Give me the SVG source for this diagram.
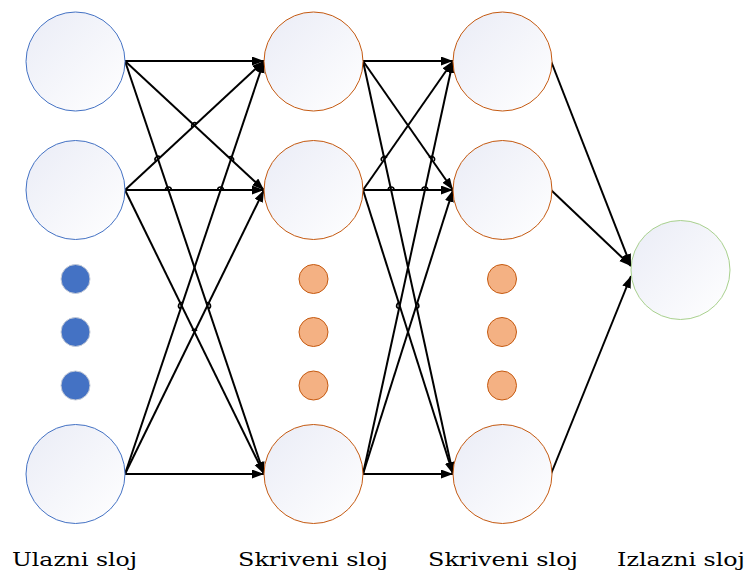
<svg xmlns="http://www.w3.org/2000/svg" width="748" height="576" viewBox="0 0 748 576">
<style>
.node{stroke-width:1}
.in{fill:url(#g);stroke:#4472C4}
.hid{fill:url(#g);stroke:#C55A11}
.out{fill:url(#g);stroke:#A9D18E}
.bd{fill:#4472C4;stroke:#C8CDD8;stroke-width:1}
.od{fill:#F4B183;stroke:#C55A11;stroke-width:1}
.c{fill:none;stroke:#000;stroke-width:2;marker-end:url(#ah)}
.hop{fill:none;stroke:#000;stroke-width:1.6}
.lbl{font-family:"DejaVu Serif","Liberation Serif",serif;font-size:19px;fill:#000}
</style>
<defs>
<linearGradient id="g" x1="0" y1="0" x2="1" y2="1">
<stop offset="0" stop-color="#EAECF6"/>
<stop offset="1" stop-color="#FFFFFF"/>
</linearGradient>
<marker id="ah" markerUnits="userSpaceOnUse" markerWidth="13" markerHeight="10" refX="12" refY="4.5" orient="auto">
<path d="M0,0 L12,4.5 L0,9 z" fill="#000"/>
</marker>
</defs>
<g id="connectors">
<path class="c" d="M125,61 L264,61"/>
<path class="c" d="M125,61 L264,190"/>
<path class="c" d="M125,61 L264,474"/>
<path class="c" d="M125,190 L264,61"/>
<path class="c" d="M125,190 L264,190"/>
<path class="c" d="M125,190 L264,474"/>
<path class="c" d="M125,474 L264,61"/>
<path class="c" d="M125,474 L264,190"/>
<path class="c" d="M125,474 L264,474"/>
<path class="c" d="M363,61 L453,61"/>
<path class="c" d="M363,61 L453,190"/>
<path class="c" d="M363,61 L453,474"/>
<path class="c" d="M363,190 L453,61"/>
<path class="c" d="M363,190 L453,190"/>
<path class="c" d="M363,190 L453,474"/>
<path class="c" d="M363,474 L453,61"/>
<path class="c" d="M363,474 L453,190"/>
<path class="c" d="M363,474 L453,474"/>
<path class="c" d="M551,61 L631,266"/>
<path class="c" d="M551,190 L631,266"/>
<path class="c" d="M551,474 L631,276"/>
<g id="hops">
<path class="hop" d="M192.3,127.5 A3,3 0 0 1 196.7,123.5"/>
<path class="hop" d="M155.6,161.0 A3,3 0 0 1 160.6,157.6"/>
<path class="hop" d="M165.4,190 A3,3 0 0 1 171.4,190"/>
<path class="hop" d="M217.6,190 A3,3 0 0 1 223.6,190"/>
<path class="hop" d="M228.5,157.6 A3,3 0 0 1 233.3,161.0"/>
<path class="hop" d="M206.4,302.9 A3,3 0 0 1 208.4,308.7"/>
<path class="hop" d="M180.6,308.6 A3,3 0 0 1 182.6,302.8"/>
<path class="hop" d="M192.0,330.7 A3,3 0 0 1 197.0,330.7"/>
<path class="hop" d="M381.9,161.0 A3,3 0 0 1 386.9,157.6"/>
<path class="hop" d="M388.1,190 A3,3 0 0 1 394.1,190"/>
<path class="hop" d="M421.9,190 A3,3 0 0 1 427.9,190"/>
<path class="hop" d="M429.1,157.6 A3,3 0 0 1 434.1,161.0"/>
<path class="hop" d="M415.7,302.8 A3,3 0 0 1 416.9,308.6"/>
<path class="hop" d="M398.8,308.6 A3,3 0 0 1 400.6,302.8"/>
</g>
</g>
<g id="input1"><circle class="in" cx="75.5" cy="61.5" r="49.5"/></g>
<g id="input2"><circle class="in" cx="75.5" cy="190" r="49.5"/></g>
<g id="input-dots">
<circle class="bd" cx="75.5" cy="279" r="14.5"/>
<circle class="bd" cx="75.5" cy="332" r="14.5"/>
<circle class="bd" cx="75.5" cy="385.5" r="14.5"/>
</g>
<g id="input3"><circle class="in" cx="75.5" cy="474" r="49.5"/></g>
<g id="hidden1a"><circle class="hid" cx="313.5" cy="61.5" r="49.5"/></g>
<g id="hidden1b"><circle class="hid" cx="313.5" cy="190" r="49.5"/></g>
<g id="hidden1-dots">
<circle class="od" cx="313.5" cy="279" r="14.5"/>
<circle class="od" cx="313.5" cy="332" r="14.5"/>
<circle class="od" cx="313.5" cy="385.5" r="14.5"/>
</g>
<g id="hidden1c"><circle class="hid" cx="313.5" cy="474" r="49.5"/></g>
<g id="hidden2a"><circle class="hid" cx="502.5" cy="61.5" r="49.5"/></g>
<g id="hidden2b"><circle class="hid" cx="502.5" cy="190" r="49.5"/></g>
<g id="hidden2-dots">
<circle class="od" cx="502" cy="279" r="14.5"/>
<circle class="od" cx="502" cy="332" r="14.5"/>
<circle class="od" cx="502" cy="385.5" r="14.5"/>
</g>
<g id="hidden2c"><circle class="hid" cx="502.5" cy="474" r="49.5"/></g>
<g id="output"><circle class="out" cx="680.5" cy="270" r="49.5"/></g>
<g id="labels">
<text class="lbl" x="12" y="566" textLength="125" lengthAdjust="spacingAndGlyphs">Ulazni sloj</text>
<text class="lbl" x="238" y="566" textLength="150" lengthAdjust="spacingAndGlyphs">Skriveni sloj</text>
<text class="lbl" x="428" y="566" textLength="150" lengthAdjust="spacingAndGlyphs">Skriveni sloj</text>
<text class="lbl" x="617" y="566" textLength="128" lengthAdjust="spacingAndGlyphs">Izlazni sloj</text>
</g>
</svg>
